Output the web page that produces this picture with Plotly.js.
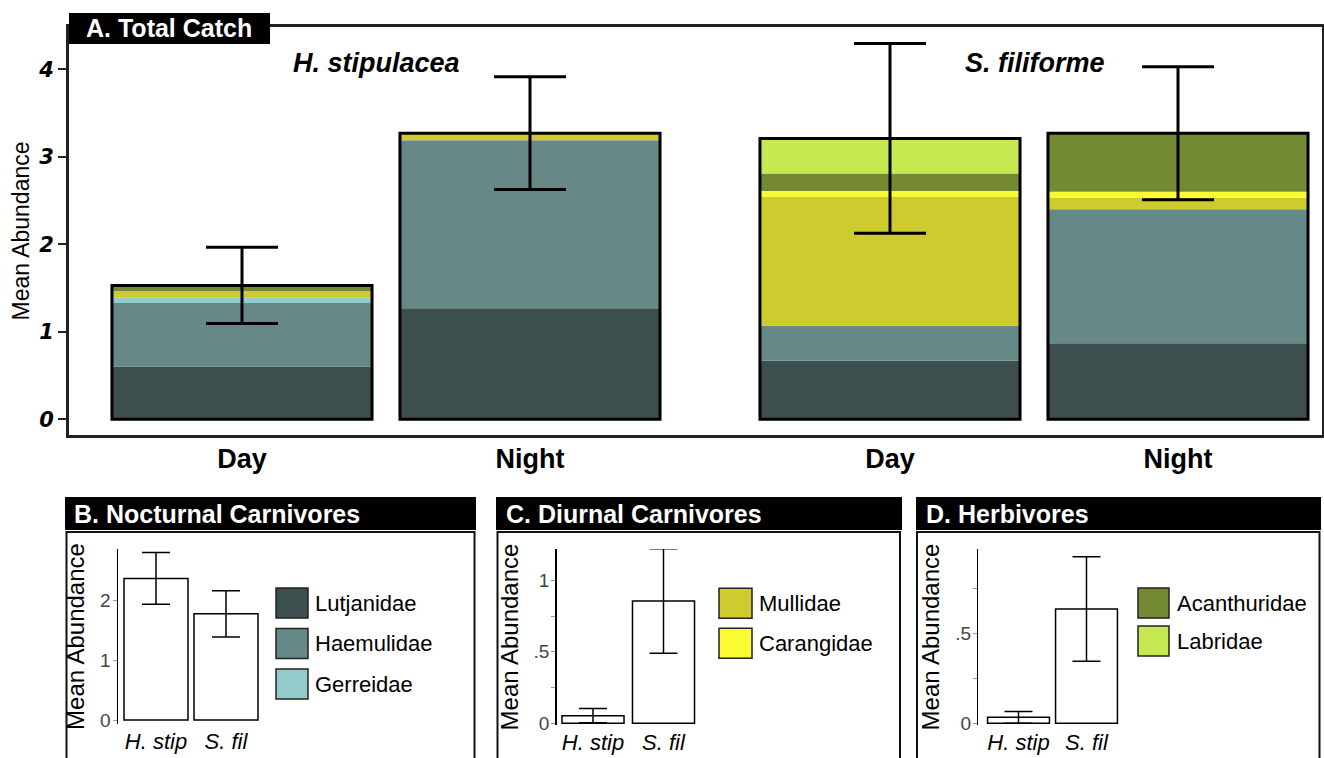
<!DOCTYPE html>
<html>
<head>
<meta charset="utf-8">
<script src="https://cdn.plot.ly/plotly-3.0.1.min.js"></script>
<style>
  html, body { margin: 0; padding: 0; background: #ffffff; }
  #chart { width: 1324px; height: 758px; }
</style>
</head>
<body>
<div id="chart"></div>
<script>
// ---------------- DATA ----------------
const periods = ['Day', 'Night', 'Day', 'Night'];
const habitats = ['H. stipulacea', 'S. filiforme'];
const families = ['Lutjanidae', 'Haemulidae', 'Gerreidae', 'Mullidae', 'Carangidae', 'Acanthuridae', 'Labridae'];
const lutjanidae   = [0.60, 1.27, 0.67, 0.87];
const haemulidae   = [0.73, 1.92, 0.40, 1.53];
const gerreidae    = [0.06, 0.00, 0.00, 0.00];
const mullidae     = [0.075, 0.08, 1.47, 0.13];
const carangidae   = [0.00, 0.00, 0.07, 0.07];
const acanthuridae = [0.065, 0.00, 0.20, 0.67];
const labridae     = [0.00, 0.00, 0.40, 0.00];
const totalErr     = [0.435, 0.645, 1.085, 0.76];

const panelCats = ['H. stip', 'S. fil'];
const nocturnalMean = [2.36, 1.77];
const nocturnalErr  = [0.43, 0.385];
const diurnalMean   = [0.053, 0.855];
const diurnalErr    = [0.05, 0.365];
const herbivoreMean = [0.033, 0.635];
const herbivoreErr  = [0.033, 0.29];

const panelTitles = ['A. Total Catch', 'B. Nocturnal Carnivores', 'C. Diurnal Carnivores', 'D. Herbivores'];
const nocturnalFamilies = ['Lutjanidae', 'Haemulidae', 'Gerreidae'];
const diurnalFamilies = ['Mullidae', 'Carangidae'];
const herbivoreFamilies = ['Acanthuridae', 'Labridae'];

// ---------------- STYLE ----------------
const W = 1324, H = 758;
const px = x => x / W;
const py = y => 1 - y / H;
const FONT = 'Liberation Sans, Arial, sans-serif';
const familyColors = {
  'Lutjanidae': '#3c4f4e',
  'Haemulidae': '#668987',
  'Gerreidae': '#94cbcb',
  'Mullidae': '#cecb2f',
  'Carangidae': '#fbfb33',
  'Acanthuridae': '#738a33',
  'Labridae': '#c6e952'
};
const stackValues = [lutjanidae, haemulidae, gerreidae, mullidae, carangidae, acanthuridae, labridae];

// main positions: two groups of two bars
const groupGap = 0.25;
const xPos = periods.map((p, i) => i + groupGap * Math.floor(i / 2));
const mainUnit = 288, mainC0 = 242;
const mainRange = [(69 - mainC0) / mainUnit, (1322 - mainC0) / mainUnit];

const traces = [];
const cum = periods.map(() => 0);
families.forEach((fam, k) => {
  const vals = stackValues[k];
  traces.push({
    type: 'bar', x: xPos, y: vals, base: cum.slice(), width: 0.903,
    marker: { color: familyColors[fam], line: { width: 0 } },
    name: fam, showlegend: false, xaxis: 'x', yaxis: 'y', hoverinfo: 'skip'
  });
  vals.forEach((v, i) => { cum[i] += v; });
});
traces.push({
  type: 'bar', x: xPos, y: cum.slice(), base: periods.map(() => 0), width: 0.903,
  marker: { color: 'rgba(0,0,0,0)', line: { width: 3, color: '#000' } },
  error_y: { type: 'data', array: totalErr, color: '#000', thickness: 3, width: 36 },
  showlegend: false, xaxis: 'x', yaxis: 'y', hoverinfo: 'skip'
});

// small panels
const panels = [
  { mean: nocturnalMean, err: nocturnalErr, fams: nocturnalFamilies, ax: 118, c0: 156, sp: 70, bw: 0.914,
    ytop: 549, ybot: 724, yzero: 720, yunit: 60, tickvals: [0, 1, 2], ticktext: ['0', '1', '2'],
    swX: [276, 308], swY: [603, 643.5, 684], labX: 313, ytitleStand: 8 },
  { mean: diurnalMean, err: diurnalErr, fams: diurnalFamilies, ax: 556.7, c0: 593, sp: 70.5, bw: 0.88,
    ytop: 549, ybot: 725, yzero: 723.3, yunit: 143, tickvals: [0, 0.25, 0.5, 0.75, 1], ticktext: ['0', '', '.5', '', '1'],
    swX: [719, 752], swY: [603.3, 643.3], labX: 757, ytitleStand: 8 },
  { mean: herbivoreMean, err: herbivoreErr, fams: herbivoreFamilies, ax: 978.3, c0: 1018.5, sp: 68, bw: 0.91,
    ytop: 549, ybot: 725, yzero: 723.3, yunit: 180, tickvals: [0, 0.25, 0.5, 0.75], ticktext: ['0', '', '.5', ''],
    swX: [1138, 1169], swY: [603, 641], labX: 1175, ytitleStand: 8 }
];

const layout = {
  width: W, height: H,
  margin: { l: 0, r: 0, t: 0, b: 0, pad: 0 },
  paper_bgcolor: '#ffffff', plot_bgcolor: 'rgba(0,0,0,0)',
  barmode: 'overlay',
  showlegend: false,
  font: { family: FONT, color: '#000' },
  xaxis: {
    domain: [px(69), px(1322)], range: mainRange, anchor: 'y',
    tickvals: xPos, ticktext: periods, ticks: '', showgrid: false, zeroline: false,
    showline: true, linecolor: '#222', linewidth: 3, mirror: true,
    tickfont: { family: FONT, size: 27, weight: 'bold', color: '#000' },
    ticklabelstandoff: -2
  },
  yaxis: {
    domain: [py(435), py(27)], range: [(419.3 - 435) / 87.5, (419.3 - 27) / 87.5], anchor: 'x',
    tickvals: [0, 1, 2, 3, 4], ticks: 'outside', ticklen: 8, tickwidth: 2, tickcolor: '#222',
    showgrid: false, zeroline: false, showline: true, linecolor: '#222', linewidth: 3, mirror: true,
    tickfont: { family: 'DejaVu Sans, sans-serif', size: 21, weight: 'bold', style: 'italic', color: '#000' },
    ticklabelstandoff: 0,
    title: { text: 'Mean Abundance', font: { family: FONT, size: 23, color: '#000' }, standoff: 3 }
  },
  shapes: [], annotations: []
};

panels.forEach((p, j) => {
  const n = j + 2;
  const xr = [(p.ax - p.c0) / p.sp, (p.ax + 200 - p.c0) / p.sp];
  layout['xaxis' + n] = {
    domain: [px(p.ax), px(p.ax + 200)], range: xr, anchor: 'y' + n,
    tickvals: panelCats.map((c, i) => i), ticktext: panelCats, ticks: '', showline: false,
    showgrid: false, zeroline: false,
    tickfont: { family: FONT, size: 22, style: 'italic', color: '#000' }, ticklabelstandoff: 2
  };
  layout['yaxis' + n] = {
    domain: [py(p.ybot), py(p.ytop)], range: [(p.yzero - p.ybot) / p.yunit, (p.yzero - p.ytop) / p.yunit],
    anchor: 'x' + n, tickvals: p.tickvals, ticktext: p.ticktext, ticks: 'outside', ticklen: 4, tickwidth: 1,
    tickcolor: '#999', showgrid: false, zeroline: false, showline: true, linecolor: '#000', linewidth: 1.5,
    tickfont: { family: FONT, size: 19, color: '#444' }, ticklabelstandoff: -2,
    title: { text: 'Mean Abundance', font: { family: FONT, size: 24, color: '#000' }, standoff: p.ytitleStand }
  };
  traces.push({
    type: 'bar', x: panelCats.map((c, i) => i), y: p.mean, width: p.bw,
    marker: { color: '#ffffff', line: { width: 1.5, color: '#000' } },
    error_y: { type: 'data', array: p.err, color: '#000', thickness: 1.5, width: 14 },
    xaxis: 'x' + n, yaxis: 'y' + n, showlegend: false, hoverinfo: 'skip'
  });
  // legend swatches
  p.fams.forEach((fam, i) => {
    const cy = p.swY[i];
    layout.shapes.push({
      type: 'rect', xref: 'paper', yref: 'paper', layer: 'above',
      x0: px(p.swX[0]), x1: px(p.swX[1]), y0: py(cy + 15), y1: py(cy - 15),
      fillcolor: familyColors[fam], line: { color: '#222', width: 1.5 }
    });
    layout.annotations.push({
      xref: 'paper', yref: 'paper', x: px(p.labX), y: py(cy), xanchor: 'left', yanchor: 'middle',
      text: fam, showarrow: false, font: { family: FONT, size: 22, color: '#000' }
    });
  });
});

// panel frames and header boxes
const headers = [
  { x0: 69, x1: 270, y0: 13, y1: 44, tx: 84, ty: 28.5 },
  { x0: 65, x1: 476, y0: 497, y1: 530, tx: 72, ty: 513.5 },
  { x0: 496, x1: 902, y0: 497, y1: 530, tx: 504, ty: 513.5 },
  { x0: 916, x1: 1321, y0: 497, y1: 530, tx: 924, ty: 513.5 }
];
const frames = [
  { x0: 66.5, x1: 474.5 }, { x0: 497.5, x1: 900 }, { x0: 917, x1: 1319.5 }
];
frames.forEach(f => {
  layout.shapes.push({
    type: 'rect', xref: 'paper', yref: 'paper', layer: 'below',
    x0: px(f.x0), x1: px(f.x1), y0: py(775), y1: py(532),
    fillcolor: 'rgba(0,0,0,0)', line: { color: '#111', width: 2 }
  });
});
headers.forEach((h, i) => {
  layout.shapes.push({
    type: 'rect', xref: 'paper', yref: 'paper', layer: 'above',
    x0: px(h.x0), x1: px(h.x1), y0: py(h.y1), y1: py(h.y0),
    fillcolor: '#000', line: { width: 0 }
  });
  layout.annotations.push({
    xref: 'paper', yref: 'paper', x: px(h.tx), y: py(h.ty), xanchor: 'left', yanchor: 'middle',
    text: panelTitles[i], showarrow: false,
    font: { family: FONT, size: 25, weight: 'bold', color: '#fff' }
  });
});

// habitat labels
[376, 1035].forEach((cx, i) => {
  layout.annotations.push({
    xref: 'paper', yref: 'paper', x: px(cx), y: py(63), xanchor: 'center', yanchor: 'middle',
    text: habitats[i], showarrow: false,
    font: { family: FONT, size: 27, weight: 'bold', style: 'italic', color: '#000' }
  });
});

Plotly.newPlot('chart', traces, layout, { staticPlot: true, displayModeBar: false });
</script>
</body>
</html>
